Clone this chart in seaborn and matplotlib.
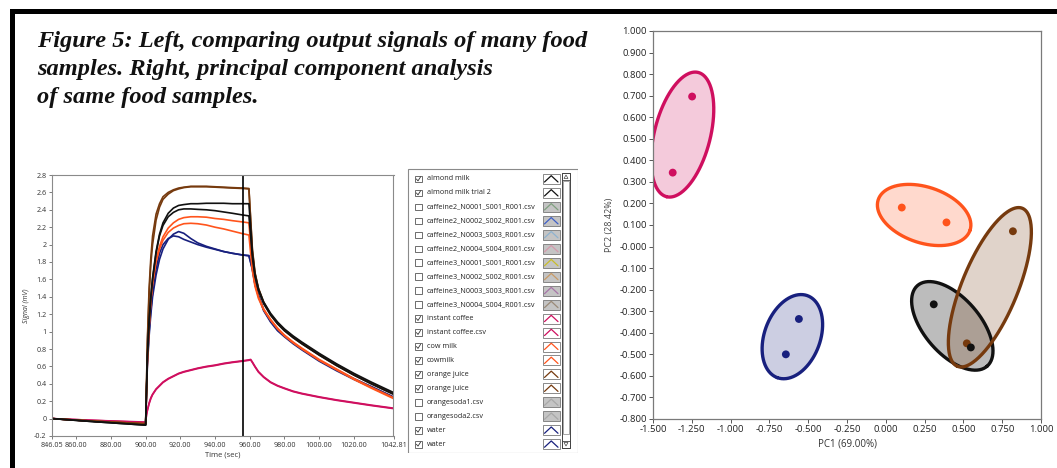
import matplotlib
matplotlib.use("Agg")
import matplotlib.pyplot as plt
from matplotlib.patches import Rectangle, Polygon
from matplotlib.ticker import FuncFormatter
import numpy as np
import pandas as pd
import seaborn as sns

sns.set_style("white")
plt.rcParams["font.family"] = ["Open Sans", "DejaVu Sans"]
plt.rcParams["axes.unicode_minus"] = False

W, H = 1057, 468

# ---- left panel: sensor signal vs time ----
time_s = [846.05, 870, 900, 900.5, 901, 902, 903, 904, 906, 908, 910, 913, 916, 919,
          922, 926, 930, 935, 940, 945, 950, 956, 959.5, 960.5, 961.5, 963, 965, 968,
          972, 976, 980, 985, 990, 1000, 1010, 1020, 1030, 1042.81]

almond_milk = [0.0, -0.035, -0.075, 0.3, 0.7, 1.1, 1.4, 1.62, 1.92, 2.12, 2.25, 2.36, 2.42, 2.45,
               2.46, 2.47, 2.47, 2.475, 2.475, 2.475, 2.47, 2.47, 2.47, 2.2, 1.9, 1.66, 1.49, 1.34,
               1.21, 1.11, 1.03, 0.95, 0.88, 0.75, 0.63, 0.52, 0.42, 0.30]
almond_milk_2 = [0.0, -0.035, -0.075, 0.32, 0.72, 1.12, 1.4, 1.6, 1.9, 2.1, 2.22, 2.32, 2.37, 2.40,
                 2.41, 2.41, 2.405, 2.40, 2.39, 2.375, 2.36, 2.34, 2.33, 2.1, 1.85, 1.63, 1.47, 1.32,
                 1.19, 1.09, 1.01, 0.93, 0.86, 0.73, 0.61, 0.50, 0.40, 0.28]
instant_coffee = [0.0, -0.02, -0.04, 0.05, 0.1, 0.18, 0.24, 0.28, 0.34, 0.38, 0.42, 0.46, 0.49, 0.52,
                  0.54, 0.56, 0.58, 0.60, 0.615, 0.635, 0.65, 0.665, 0.675, 0.68, 0.65, 0.60, 0.54, 0.48,
                  0.42, 0.38, 0.35, 0.315, 0.29, 0.25, 0.215, 0.185, 0.155, 0.12]
instant_coffee_csv = [0.0, -0.02, -0.045, 0.04, 0.09, 0.17, 0.23, 0.275, 0.335, 0.375, 0.415, 0.455, 0.485, 0.515,
                      0.535, 0.555, 0.575, 0.595, 0.61, 0.63, 0.645, 0.66, 0.67, 0.675, 0.645, 0.595, 0.535, 0.475,
                      0.415, 0.375, 0.345, 0.31, 0.285, 0.245, 0.21, 0.18, 0.15, 0.115]
cow_milk = [0.0, -0.03, -0.06, 0.3, 0.65, 1.05, 1.35, 1.55, 1.82, 1.98, 2.09, 2.19, 2.25, 2.29,
            2.31, 2.32, 2.32, 2.315, 2.30, 2.29, 2.275, 2.26, 2.25, 2.0, 1.75, 1.55, 1.40, 1.26,
            1.14, 1.04, 0.96, 0.88, 0.81, 0.68, 0.57, 0.46, 0.36, 0.24]
cowmilk = [0.0, -0.03, -0.06, 0.3, 0.66, 1.06, 1.36, 1.55, 1.80, 1.95, 2.05, 2.14, 2.19, 2.22,
           2.24, 2.245, 2.24, 2.225, 2.20, 2.18, 2.155, 2.125, 2.11, 1.9, 1.70, 1.52, 1.38, 1.25,
           1.13, 1.03, 0.95, 0.87, 0.80, 0.67, 0.56, 0.45, 0.35, 0.23]
orange_juice = [0.0, -0.03, -0.06, 0.4, 0.9, 1.5, 1.85, 2.1, 2.35, 2.47, 2.55, 2.60, 2.63, 2.65,
                2.66, 2.67, 2.67, 2.67, 2.665, 2.66, 2.655, 2.65, 2.645, 2.3, 1.95, 1.68, 1.50, 1.34,
                1.20, 1.10, 1.02, 0.94, 0.87, 0.74, 0.62, 0.51, 0.41, 0.29]
orange_juice_2 = [0.0, -0.03, -0.06, 0.38, 0.85, 1.42, 1.78, 2.0, 2.28, 2.43, 2.52, 2.58, 2.62, 2.64,
                  2.655, 2.665, 2.665, 2.665, 2.66, 2.655, 2.65, 2.645, 2.64, 2.28, 1.93, 1.67, 1.49, 1.33,
                  1.19, 1.09, 1.01, 0.93, 0.86, 0.73, 0.61, 0.50, 0.40, 0.28]
water = [0.0, -0.03, -0.065, 0.3, 0.6, 0.95, 1.2, 1.4, 1.65, 1.83, 1.95, 2.06, 2.12, 2.15,
         2.13, 2.07, 2.02, 1.98, 1.95, 1.92, 1.90, 1.88, 1.875, 1.8, 1.72, 1.55, 1.42, 1.25,
         1.12, 1.02, 0.95, 0.87, 0.80, 0.67, 0.56, 0.46, 0.37, 0.25]
water_2 = [0.0, -0.03, -0.065, 0.32, 0.65, 1.0, 1.25, 1.45, 1.72, 1.90, 2.00, 2.07, 2.10, 2.09,
           2.06, 2.03, 2.00, 1.97, 1.945, 1.92, 1.90, 1.88, 1.87, 1.79, 1.71, 1.54, 1.41, 1.24,
           1.11, 1.01, 0.94, 0.86, 0.79, 0.66, 0.55, 0.45, 0.36, 0.24]

cursor_time = 956.2

series = {
    "instant coffee": instant_coffee, "instant coffee.csv": instant_coffee_csv,
    "water": water, "water 2": water_2,
    "cow milk": cow_milk, "cowmilk": cowmilk,
    "orange juice": orange_juice, "orange juice 2": orange_juice_2,
    "almond milk": almond_milk, "almond milk trial 2": almond_milk_2,
}
PINK, NAVY, ORANGE, BROWN, BLACK = "#cf0f5f", "#18207e", "#ff541c", "#763a0e", "#111111"
series_colors = {
    "instant coffee": PINK, "instant coffee.csv": PINK, "water": NAVY, "water 2": NAVY,
    "cow milk": ORANGE, "cowmilk": ORANGE, "orange juice": BROWN, "orange juice 2": BROWN,
    "almond milk": BLACK, "almond milk trial 2": BLACK,
}
sig = pd.DataFrame([(name, t, v) for name, vals in series.items()
                    for t, v in zip(time_s, vals)], columns=["sample", "time", "signal"])

# ---- legend list ----
legend_names = ["almond milk", "almond milk trial 2",
                "caffeine2_N0001_S001_R001.csv", "caffeine2_N0002_S002_R001.csv",
                "caffeine2_N0003_S003_R001.csv", "caffeine2_N0004_S004_R001.csv",
                "caffeine3_N0001_S001_R001.csv", "caffeine3_N0002_S002_R001.csv",
                "caffeine3_N0003_S003_R001.csv", "caffeine3_N0004_S004_R001.csv",
                "instant coffee", "instant coffee.csv", "cow milk", "cowmilk",
                "orange juice", "orange juice", "orangesoda1.csv", "orangesoda2.csv",
                "water", "water"]
legend_checked = [1, 1, 0, 0, 0, 0, 0, 0, 0, 0, 1, 1, 1, 1, 1, 1, 0, 0, 1, 1]
legend_colors = [BLACK, BLACK, "#7fa07f", "#3f5fc8", "#8fb3cf", "#d49aac",
                 "#c9bd2a", "#c89a66", "#a776a8", "#9a8a78",
                 PINK, PINK, ORANGE, ORANGE, BROWN, BROWN, "#a8a8a8", "#a8a8a8", NAVY, NAVY]

# ---- right panel: PCA scores ----
pc1 = [-1.248, -1.373, 0.103, 0.391, 0.819, 0.522, 0.309, 0.548, -0.560, -0.644]
pc2 = [0.696, 0.343, 0.181, 0.112, 0.071, -0.449, -0.268, -0.468, -0.336, -0.500]
pc_group = ["coffee", "coffee", "cow", "cow", "oj", "oj", "almond", "almond", "water", "water"]
group_colors = {"coffee": PINK, "cow": ORANGE, "oj": BROWN, "almond": BLACK, "water": NAVY}
group_order = ["coffee", "cow", "water", "almond", "oj"]
pca = pd.DataFrame({"pc1": pc1, "pc2": pc2, "group": pc_group})

X0, X1, Y0, Y1 = -1.5, 1.0, -0.8, 1.0


def group_ellipse(xs, ys, pad=0.064, minor=0.072, n=240):
    # ellipse around the two scores, built in axes-fraction space (axes is square in px)
    u = (np.asarray(xs) - X0) / (X1 - X0)
    v = (np.asarray(ys) - Y0) / (Y1 - Y0)
    cu, cv = u.mean(), v.mean()
    du, dv = (u[1] - u[0]) / 2, (v[1] - v[0]) / 2
    h = np.hypot(du, dv)
    ex, ey = du / h, dv / h
    a = h + pad
    t = np.linspace(0, 2 * np.pi, n)
    pu = cu + a * np.cos(t) * ex - minor * np.sin(t) * ey
    pv = cv + a * np.cos(t) * ey + minor * np.sin(t) * ex
    return X0 + pu * (X1 - X0), Y0 + pv * (Y1 - Y0)


fig = plt.figure(figsize=(W / 100, H / 100), dpi=100)

# frame bars
fig.add_artist(Rectangle((10 / W, 1 - 14 / H), 1 - 10 / W, 5 / H, transform=fig.transFigure,
                         color="black", lw=0))
fig.add_artist(Rectangle((10 / W, 0), 5 / W, 1 - 9 / H, transform=fig.transFigure,
                         color="black", lw=0))

title_lines = ["Figure 5: Left, comparing output signals of many food",
               "samples. Right, principal component analysis",
               "of same food samples."]
for i, line in enumerate(title_lines):
    fig.text(37 / W, 1 - (47 + 28 * i) / H, line, family="Liberation Serif",
             style="italic", weight="bold", fontsize=17.6, va="baseline", color="#111")

# left: signal plot
ax = fig.add_axes([52 / W, 1 - 436 / H, 341.5 / W, 261 / H])
sns.lineplot(data=sig, x="time", y="signal", hue="sample", palette=series_colors,
             hue_order=list(series), estimator=None, sort=False, legend=False,
             linewidth=1.2, ax=ax)
ax.axvline(cursor_time, color="black", lw=1.2)
ax.set_xlim(846.05, 1042.81)
ax.set_ylim(-0.2, 2.8)
ax.set_xticks([846.05, 860, 880, 900, 920, 940, 960, 980, 1000, 1020, 1042.81])
ax.xaxis.set_major_formatter(FuncFormatter(lambda v, p: f"{v:.2f}"))
ax.set_yticks(np.round(np.arange(-0.2, 2.81, 0.2), 1))
ax.yaxis.set_major_formatter(FuncFormatter(lambda v, p: f"{v:g}"))
ax.tick_params(labelsize=5.2, length=2.5, width=0.6, color="#666", labelcolor="#333", pad=1.5)
ax.tick_params(axis="x", bottom=True)
ax.tick_params(axis="y", left=True)
for s in ax.spines.values():
    s.set_color("#8a8a8a")
    s.set_linewidth(0.8)
ax.set_xlabel("Time (sec)", fontsize=5.5, color="#333", labelpad=2)
ax.set_ylabel("Signal (mV)", fontsize=5, color="#333", style="italic", labelpad=3)

# legend panel
lax = fig.add_axes([407 / W, 1 - 453 / H, 171 / W, 285 / H])
lax.set_xlim(0, 171)
lax.set_ylim(285, 0)
lax.axis("off")
lax.add_patch(Rectangle((0.5, 0.5), 170, 284, fill=False, ec="#8a8a8a", lw=0.8))
for i, (name, on, col) in enumerate(zip(legend_names, legend_checked, legend_colors)):
    yc = 11 + i * 13.96
    lax.add_patch(Rectangle((8, yc - 3.3), 6.6, 6.6, fill=False, ec="#555", lw=0.6))
    if on:
        lax.plot([9.4, 11, 13.6], [yc, yc + 1.9, yc - 2.2], color="#333", lw=0.6)
    lax.text(20, yc, name, fontsize=5.25, va="center", color="#222")
    lax.add_patch(Rectangle((136, yc - 5), 16.5, 10, fc="white" if on else "#c4c4c4",
                            ec="#777", lw=0.6))
    lax.plot([137.5, 144.25, 151], [yc + 3, yc - 3.3, yc + 3], color=col, lw=0.9)
lax.add_patch(Rectangle((155, 5), 8, 275, fill=False, ec="#444", lw=0.7))
lax.add_patch(Rectangle((156, 13), 6, 253, fill=False, ec="#999", lw=0.6))
lax.add_patch(Rectangle((155, 5), 8, 7, fill=False, ec="#444", lw=0.6))
lax.add_patch(Rectangle((155, 273), 8, 7, fill=False, ec="#444", lw=0.6))
lax.add_patch(Polygon([[157, 10.5], [161, 10.5], [159, 7]], closed=True, fill=False, ec="#444", lw=0.5))
lax.add_patch(Polygon([[157, 274.5], [161, 274.5], [159, 278]], closed=True, fill=False, ec="#444", lw=0.5))

# right: PCA
bx = fig.add_axes([653 / W, 1 - 419 / H, 388 / W, 388 / H])
for g in group_order:
    sub = pca[pca["group"] == g]
    ex, ey = group_ellipse(sub["pc1"].values, sub["pc2"].values)
    c = group_colors[g]
    bx.fill(ex, ey, color=c, alpha=0.28 if g == "almond" else 0.22, lw=0, zorder=1)
    bx.plot(ex, ey, color=c, lw=2.4, zorder=2)
sns.scatterplot(data=pca, x="pc1", y="pc2", hue="group", palette=group_colors,
                s=32, edgecolor="none", legend=False, zorder=3, ax=bx)
bx.set_xlim(X0, X1)
bx.set_ylim(Y0, Y1)
bx.set_xticks(np.arange(-1.5, 1.01, 0.25))
bx.set_yticks(np.round(np.arange(-0.8, 1.01, 0.1), 1))
bx.xaxis.set_major_formatter(FuncFormatter(lambda v, p: f"{v:.3f}"))
bx.yaxis.set_major_formatter(FuncFormatter(lambda v, p: f"{v:.3f}"))
bx.tick_params(labelsize=6.8, length=3, width=0.7, color="#555", labelcolor="#222", pad=1.5)
bx.tick_params(axis="x", bottom=True)
bx.tick_params(axis="y", left=True)
for s in bx.spines.values():
    s.set_color("#7a7a7a")
    s.set_linewidth(0.9)
bx.set_xlabel("PC1 (69.00%)", fontsize=7, color="#333", labelpad=3)
bx.set_ylabel("PC2 (28.42%)", fontsize=6.5, color="#444", labelpad=4)

fig.savefig("out.png", dpi=100)
plt.close(fig)
